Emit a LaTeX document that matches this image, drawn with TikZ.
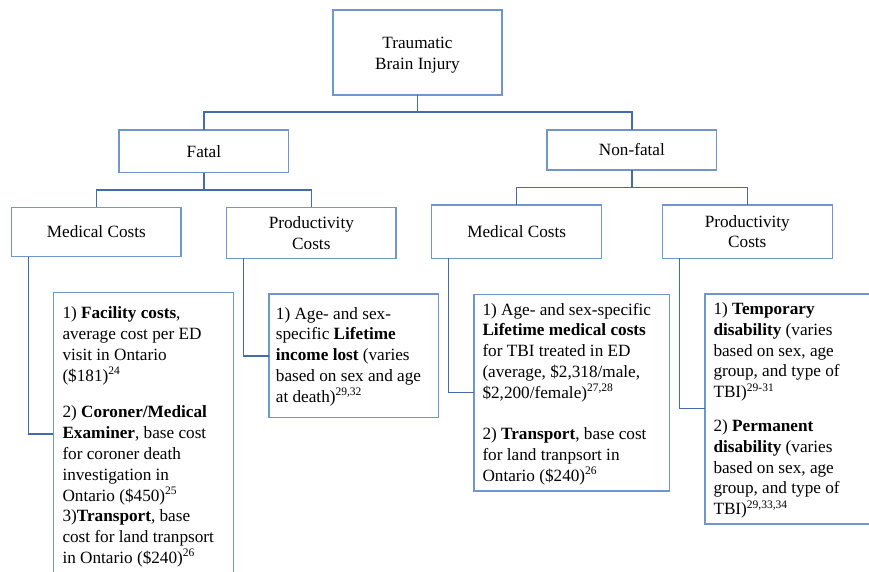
\documentclass[tikz,border=0pt]{standalone}
\usepackage{fontspec}
\setmainfont{Liberation Serif}
\definecolor{boxc}{RGB}{112,150,205}
\definecolor{linec}{RGB}{68,108,168}
\newcommand{\supr}[1]{\raisebox{6.5pt}{\fontsize{11.5}{11.5}\selectfont #1}}
\newcommand{\tfont}{\fontsize{17.2}{20.8}\selectfont\lineskiplimit=-100pt}
\begin{document}
\begin{tikzpicture}[x=1pt,y=-1pt,
  hbox/.style={draw=boxc, line width=1.2pt, inner sep=0pt, outer sep=0pt, align=center, font=\tfont},
  dbox/.style={draw=boxc, line width=1.2pt, inner sep=0pt, outer sep=0pt, anchor=north west},
  dtext/.style={anchor=north west, inner sep=0pt, align=left, font=\tfont},
  conn/.style={draw=linec, line width=1.4pt}]
\useasboundingbox (0,0) rectangle (869,572);
\clip (0,0) rectangle (869,572);
% header boxes
\node[hbox, minimum width=169pt, minimum height=85pt] (tbi) at (417.5,52.5) {\rule{0pt}{17.5pt}Traumatic\\Brain Injury};
\node[hbox, minimum width=169.7pt, minimum height=42.7pt] (fatal) at (203.9,151.35) {Fatal};
\node[hbox, minimum width=169.7pt, minimum height=40pt] (nonfatal) at (631.9,150) {Non-fatal};
\node[hbox, minimum width=169.3pt, minimum height=49.4pt] (mF) at (96.35,232) {Medical Costs};
\node[hbox, minimum width=169.3pt, minimum height=51pt] (pF) at (311.35,232.8) {Productivity\\Costs};
\node[hbox, minimum width=170pt, minimum height=53.3pt] (mN) at (516.7,231.65) {Medical Costs};
\node[hbox, minimum width=170pt, minimum height=53.3pt] (pN) at (747.3,231.65) {Productivity\\Costs};
% detail boxes
\node[dbox, minimum width=180pt, minimum height=320pt] (dFM) at (53.3,292.3) {};
\node[dbox, minimum width=169.3pt, minimum height=123.7pt] (dFP) at (269,294) {};
\node[dbox, minimum width=195.3pt, minimum height=196.7pt] (dNM) at (474,294.3) {};
\node[dbox, minimum width=200pt, minimum height=230pt] (dNP) at (705,294) {};
% detail texts
\node[dtext] (tFM) at (62.3,304) {\strut 1) \textbf{Facility costs},\\
average cost per ED\\
visit in Ontario\\
(\$181)\supr{24}\\[15.9pt]
2) \textbf{Coroner/Medical}\\
\textbf{Examiner}, base cost\\
for coroner death\\
investigation in\\
Ontario (\$450)\supr{25}\\
3)\textbf{Transport}, base\\
cost for land tranpsort\\
in Ontario (\$240)\supr{26}};
\node[dtext] (tFP) at (275.7,304.4) {\strut 1) Age- and sex-\\
specific \textbf{Lifetime}\\
\textbf{income lost} (varies\\
based on sex and age\\
at death)\supr{29,32}};
\node[dtext] (tNM) at (482.3,300.4) {\strut 1) Age- and sex-specific\\
\textbf{Lifetime medical costs}\\
for TBI treated in ED\\
(average, \$2,318/male,\\
\$2,200/female)\supr{27,28}\\[20.5pt]
2) \textbf{Transport}, base cost\\
for land tranpsort in\\
Ontario (\$240)\supr{26}};
\node[dtext] (tNP) at (713.3,299.7) {\strut 1) \textbf{Temporary}\\
\textbf{disability} (varies\\
based on sex, age\\
group, and type of\\
TBI)\supr{29-31}\\[13pt]
2) \textbf{Permanent}\\
\textbf{disability} (varies\\
based on sex, age\\
group, and type of\\
TBI)\supr{29,33,34}};
% connectors
\coordinate (j0) at (417.5,112);
\coordinate (j1) at (203.9,190);
\coordinate (j2) at (631.9,187.7);
\draw[conn] (tbi.south) -- (j0);
\draw[conn] (fatal.north) |- (j0) -| (nonfatal.north);
\draw[conn] (fatal.south) -- (j1);
\draw[conn] (mF.north) |- (j1) -| (pF.north);
\draw[conn] (nonfatal.south) -- (j2);
\draw[conn] (mN.north) |- (j2) -| (pN.north);
\draw[conn] ([xshift=16.6pt]mF.south west) |- ([yshift=-141.7pt]dFM.north west);
\draw[conn] ([xshift=16.6pt]pF.south west) |- ([yshift=-62pt]dFP.north west);
\draw[conn] ([xshift=17pt]mN.south west) |- ([yshift=-98.4pt]dNM.north west);
\draw[conn] ([xshift=17.4pt]pN.south west) |- ([yshift=-114.7pt]dNP.north west);
\end{tikzpicture}
\end{document}
